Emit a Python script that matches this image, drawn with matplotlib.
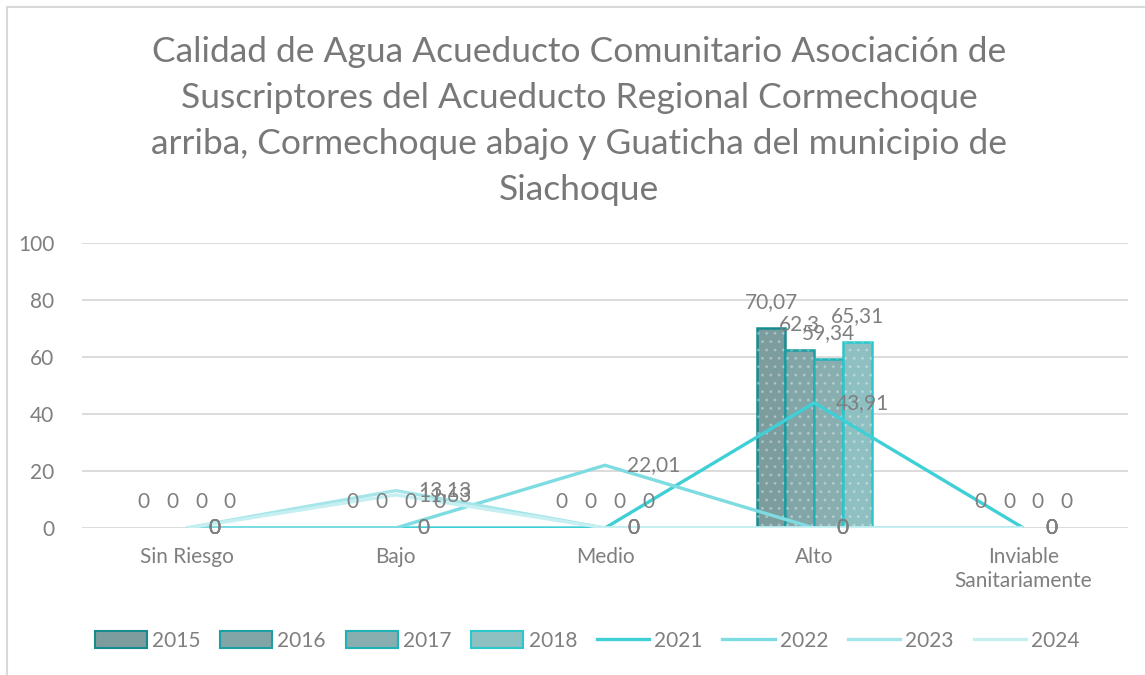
import matplotlib
matplotlib.use("Agg")
import matplotlib.pyplot as plt
from matplotlib.patches import Patch
from matplotlib.lines import Line2D
import numpy as np

plt.rcParams['font.family'] = ['Lato', 'DejaVu Sans']

categories = ["Sin Riesgo", "Bajo", "Medio", "Alto", "Inviable\nSanitariamente"]
bar_years = ["2015", "2016", "2017", "2018"]
bar_values = {
    "2015": [0, 0, 0, 70.07, 0],
    "2016": [0, 0, 0, 62.3, 0],
    "2017": [0, 0, 0, 59.34, 0],
    "2018": [0, 0, 0, 65.31, 0],
}
line_years = ["2021", "2022", "2023", "2024"]
line_values = {
    "2021": [0, 0, 0, 43.91, 0],
    "2022": [0, 0, 22.01, 0, 0],
    "2023": [0, 13.13, 0, 0, 0],
    "2024": [0, 11.63, 0, 0, 0],
}
title_lines = [
    "Calidad de Agua Acueducto Comunitario Asociación de",
    "Suscriptores del Acueducto Regional Cormechoque",
    "arriba, Cormechoque abajo y Guaticha del municipio de",
    "Siachoque",
]

bar_fill = ["#7d9c9e", "#82a6a8", "#88aeb0", "#8ebfc1"]
bar_edge = ["#168c90", "#1b9fa4", "#1fb3b8", "#2cc7cd"]
line_colors = ["#3fcfd6", "#7ddce1", "#a5e5e9", "#c6eff2"]
txt = "#7f7f7f"
FS = 15

def fmt(v):
    s = ("%.2f" % v).rstrip("0").rstrip(".")
    return s.replace(".", ",")

W, H = 1145, 675
fig = plt.figure(figsize=(W / 100, H / 100), dpi=100)
ax = fig.add_axes([82 / W, 1 - 528 / H, (1128 - 82) / W, (528 - 243) / H])

x = np.arange(len(categories))
w = 0.1375
offs = [-1.5 * w, -0.5 * w, 0.5 * w, 1.5 * w]
for i, yr in enumerate(bar_years):
    vals = bar_values[yr]
    lws = [1.8 if v > 0 else 0 for v in vals]
    ax.bar(x + offs[i], vals, width=w, color=bar_fill[i], edgecolor=bar_edge[i],
           linewidth=lws, zorder=3)
    ax.bar(x + offs[i], vals, width=w, color="none", edgecolor=(1, 1, 1, 0.25),
           hatch="..", linewidth=0, zorder=3)
    for xi, v in zip(x, vals):
        ax.annotate(fmt(v), (xi + offs[i], v), xytext=(0, 26), textcoords="offset pixels",
                    ha="center", va="center", fontsize=FS, color=txt, zorder=6)

for i, yr in enumerate(line_years):
    vals = line_values[yr]
    ax.plot(x, vals, color=line_colors[i], lw=2.4, zorder=4 + i * 0.1,
            solid_capstyle="butt")
    for xi, v in zip(x, vals):
        ax.annotate(fmt(v), (xi, v), xytext=(22, 0), textcoords="offset pixels",
                    ha="left", va="center", fontsize=FS, color=txt, zorder=6)

ax.set_xlim(-0.5, len(categories) - 0.5)
ax.set_ylim(0, 100)
ax.set_yticks(range(0, 101, 20))
ax.set_xticks(x)
ax.set_xticklabels(categories, fontsize=FS, color=txt, linespacing=1.2)
ax.tick_params(axis="y", labelsize=FS, labelcolor=txt, length=0, pad=20)
ax.tick_params(axis="x", length=0, pad=14)
ax.grid(axis="y", color="#d9d9d9", lw=1.3, zorder=0)
ax.set_axisbelow(True)
for s in ax.spines.values():
    s.set_visible(False)

for k, line in enumerate(title_lines):
    fig.text(579 / W, 1 - (52 + 46 * k) / H, line, ha="center", va="center",
             fontsize=25.5, color="#787878")

# chart border (left and top visible)
fig.add_artist(Line2D([7 / W, 7 / W], [0, 1 - 7 / H], transform=fig.transFigure,
                      color="#d9d9d9", lw=1.5))
fig.add_artist(Line2D([7 / W, 1], [1 - 7 / H, 1 - 7 / H], transform=fig.transFigure,
                      color="#d9d9d9", lw=1.5))

handles = []
for i, yr in enumerate(bar_years):
    handles.append(Patch(facecolor=bar_fill[i], edgecolor=bar_edge[i], lw=1.5, label=yr))
for i, yr in enumerate(line_years):
    handles.append(Line2D([], [], color=line_colors[i], lw=2.4, label=yr))
leg = fig.legend(handles=handles, loc="center", bbox_to_anchor=(587 / W, 1 - 641 / H),
                 ncol=8, frameon=False, fontsize=FS, handlelength=2.5,
                 handleheight=0.85, handletextpad=0.25, columnspacing=0.95)
for t in leg.get_texts():
    t.set_color(txt)

fig.savefig("out.png", dpi=100)
